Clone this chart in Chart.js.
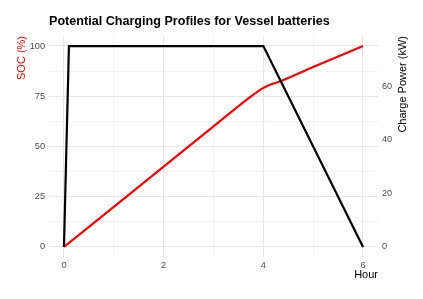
<!DOCTYPE html>
<html>
<head>
<meta charset="utf-8">
<script src="https://cdn.jsdelivr.net/npm/chart.js@4"></script>
<style>
html,body{margin:0;padding:0;background:#fff;}
#wrap{width:423px;height:299px;position:relative;}
</style>
</head>
<body>
<div id="wrap"><canvas id="c" width="423" height="299"></canvas></div>
<script>
// ---- data ----
const socHours   = [0, 1, 2, 3, 3.7, 3.9, 4, 4.1, 4.3, 5, 6];
const socValues  = [0, 20, 40, 60, 74, 77.6, 79.2, 80.4, 82.1, 89.6, 100];
const powerHours = [0, 0.1, 4, 6];
const powerKW    = [0, 75, 75, 0];

const xMajorTicks = [0, 2, 4, 6];
const xGridTicks  = [0, 1, 2, 3, 4, 5, 6];
const socMajorTicks = [0, 25, 50, 75, 100];
const socGridTicks  = [0, 12.5, 25, 37.5, 50, 62.5, 75, 87.5, 100];
const powerTicks  = [0, 20, 40, 60];

const titleText = 'Potential Charging Profiles for Vessel batteries';
const xTitle = 'Hour';
const yLeftTitle = 'SOC (%)';
const yRightTitle = 'Charge Power (kW)';

const FONT = '"Liberation Sans", Arial, sans-serif';
const PLOT = {left: 49, right: 378, top: 36, bottom: 257};

const textPlugin = {
  id: 'texts',
  afterDraw(chart) {
    const c = chart.ctx;
    const a = chart.chartArea;
    c.save();
    c.fillStyle = '#000';
    c.font = 'bold 12.6px ' + FONT;
    c.textAlign = 'left';
    c.textBaseline = 'middle';
    c.fillText(titleText, a.left, 22);

    c.font = '11px ' + FONT;
    c.textAlign = 'right';
    c.fillText(xTitle, a.right, 275);

    // left axis title
    c.save();
    c.translate(22, a.top);
    c.rotate(-Math.PI / 2);
    c.textAlign = 'right';
    c.textBaseline = 'middle';
    c.fillStyle = '#ff0000';
    c.fillText(yLeftTitle, 0, 0);
    c.restore();

    // right axis title
    c.save();
    c.translate(403, a.top);
    c.rotate(-Math.PI / 2);
    c.textAlign = 'right';
    c.textBaseline = 'middle';
    c.fillStyle = '#000';
    c.fillText(yRightTitle, 0, 0);
    c.restore();
    c.restore();
  }
};

const toPts = (xs, ys) => xs.map((x, i) => ({x: x, y: ys[i]}));

new Chart(document.getElementById('c'), {
  type: 'line',
  data: {
    datasets: [
      {
        label: 'Charge Power',
        data: toPts(powerHours, powerKW),
        yAxisID: 'y2',
        borderColor: '#000000',
        borderWidth: 2.2,
        pointRadius: 0,
        tension: 0,
        order: 0
      },
      {
        label: 'SOC',
        data: toPts(socHours, socValues),
        yAxisID: 'y',
        borderColor: '#ff0000',
        borderWidth: 2.2,
        pointRadius: 0,
        cubicInterpolationMode: 'monotone',
        order: 1
      }
    ]
  },
  options: {
    responsive: false,
    animation: false,
    events: [],
    layout: {padding: {top: PLOT.top, left: 0, right: 0, bottom: 0}},
    plugins: {legend: {display: false}, title: {display: false}, tooltip: {enabled: false}},
    scales: {
      x: {
        type: 'linear',
        min: -0.3, max: 6.3,
        afterBuildTicks: s => { s.ticks = xGridTicks.map(v => ({value: v})); },
        afterFit: s => { s.height = 299 - PLOT.bottom; },
        border: {display: false},
        grid: {
          drawTicks: false,
          color: ctx => xMajorTicks.includes(ctx.tick && ctx.tick.value) ? '#e6e6e6' : '#f0f0f0',
          lineWidth: ctx => xMajorTicks.includes(ctx.tick && ctx.tick.value) ? 1.1 : 0.8
        },
        ticks: {
          autoSkip: false, maxRotation: 0,
          padding: 3,
          color: '#4d4d4d',
          font: {family: FONT, size: 9.2},
          callback: v => xMajorTicks.includes(v) ? String(v) : ''
        }
      },
      y: {
        type: 'linear', position: 'left',
        min: -5, max: 105,
        afterBuildTicks: s => { s.ticks = socGridTicks.map(v => ({value: v})); },
        afterFit: s => { s.width = PLOT.left; },
        border: {display: false},
        grid: {
          drawTicks: false,
          color: ctx => socMajorTicks.includes(ctx.tick && ctx.tick.value) ? '#e6e6e6' : '#f0f0f0',
          lineWidth: ctx => socMajorTicks.includes(ctx.tick && ctx.tick.value) ? 1.1 : 0.8
        },
        ticks: {
          autoSkip: false,
          padding: 4,
          color: '#4d4d4d',
          font: {family: FONT, size: 9.2},
          callback: v => socMajorTicks.includes(v) ? String(v) : ''
        }
      },
      y2: {
        type: 'linear', position: 'right',
        min: -3.75, max: 78.75,
        afterBuildTicks: s => { s.ticks = powerTicks.map(v => ({value: v})); },
        afterFit: s => { s.width = 423 - PLOT.right; },
        border: {display: false},
        grid: {display: false, drawTicks: false},
        ticks: {
          autoSkip: false,
          padding: 4,
          color: '#4d4d4d',
          font: {family: FONT, size: 9.2},
          callback: v => String(v)
        }
      }
    }
  },
  plugins: [textPlugin]
});
</script>
</body>
</html>
